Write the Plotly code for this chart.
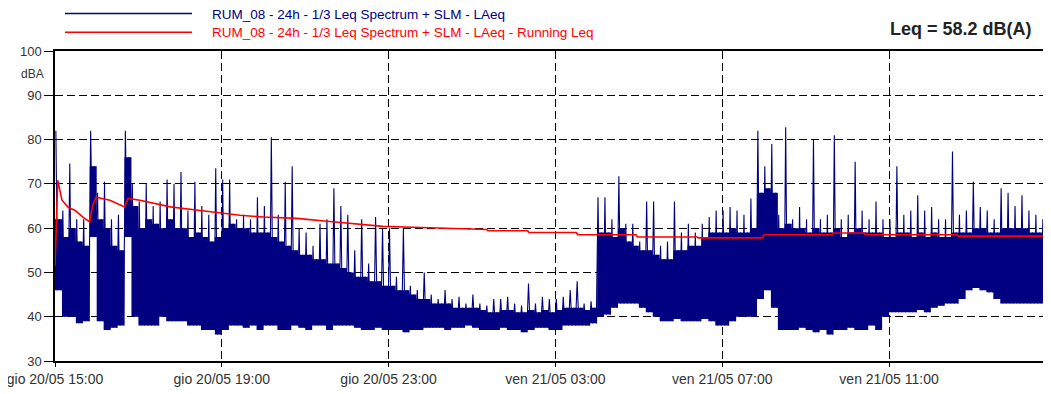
import pandas as pd
import plotly.graph_objects as go

# ---- data (10-minute bins from 20/05 15:00) ----
series_name = "RUM_08 - 24h - 1/3 Leq Spectrum + SLM - LAeq"
running_name = "RUM_08 - 24h - 1/3 Leq Spectrum + SLM - LAeq - Running Leq"
leq_total = 58.2

# peak level per bin (dBA)
laeq_peak = [
    82, 64, 74.6, 62, 62, 82,
    68, 70.5, 62, 63, 82, 70,
    66, 70, 65, 66, 71, 70,
    72.7, 64, 70.5, 65, 63, 73.5,
    71, 71, 62, 63, 62, 67,
    65, 80.5, 63, 70.5, 74, 60,
    59, 56, 61, 62, 69, 65,
    63, 55, 62, 52, 62.5, 60,
    60, 49, 60, 47, 46, 50,
    45, 44, 46, 44, 44.5, 43,
    45, 43, 42.5, 44, 44, 44.5,
    43, 42.5, 47.5, 43, 44.5, 44,
    44, 44.5, 46, 48, 43, 43.5,
    67, 67, 62, 71.7, 61, 61,
    57, 66, 66, 56, 57, 66,
    59, 61, 59, 61, 62.5, 64,
    64, 64.8, 64, 63, 66.7, 82,
    74, 79, 63, 82.8, 62, 64.8,
    62, 80, 62, 63, 81, 62,
    63, 75, 64, 62, 66, 62,
    62, 74, 63, 64, 67.4, 64,
    64.8, 62, 62, 77.3, 63, 64,
    70.5, 64.8, 64, 62, 69, 68,
    65, 67.4, 64, 63, 62, 62,
]
# upper edge of the dense band per bin (dBA)
laeq_top = [
    62, 58, 60, 57, 56, 74,
    62, 60, 56, 55, 76, 65,
    60, 62, 61, 60, 62, 60,
    60, 58, 59, 58, 57, 58,
    60, 61, 60, 60, 59, 59,
    59, 58, 57, 56, 55, 54,
    54, 53, 53, 52, 52, 51,
    50, 49, 49, 48, 48, 47,
    47, 46, 46, 45, 44, 44,
    43, 43, 43, 42, 42, 42,
    42, 41.5, 41, 41, 41.5, 41.5,
    41, 41, 41.5, 41, 41.5, 41,
    41.5, 42, 42, 42, 41.5, 42,
    59, 59, 58, 60, 57, 56,
    55, 55, 54, 53, 53, 55,
    55, 56, 56, 58, 59, 59,
    59, 60, 59, 59, 60, 68,
    69, 68, 60, 61, 60, 60,
    59, 60, 59, 59, 60, 58,
    59, 60, 59, 59, 59, 58,
    58, 59, 59, 58, 59, 58,
    59, 58, 58, 59, 59, 59,
    60, 60, 59, 59, 60, 60,
    60, 60, 59, 59, 59, 59,
]
# lowest level per bin (dBA)
laeq_low = [
    46, 40, 40, 38.5, 39, 58,
    39, 37, 37.5, 38, 58, 40,
    38, 38, 38, 40, 39, 39,
    39, 38, 38, 37, 37, 36,
    37, 38, 38, 37.5, 38, 37,
    38, 38, 37, 37, 38, 37.5,
    37, 38, 38, 37, 38, 38,
    38, 37.5, 37, 37, 37.5, 37,
    37, 37, 36.5, 37, 37, 37.5,
    37.5, 37.5, 37, 37.5, 37.5, 38,
    37.5, 37, 37, 37, 37.5, 37,
    37, 36.5, 37, 37.5, 37.5, 37,
    37, 38, 38, 38, 38, 38.5,
    40, 40.5, 42, 43, 43, 43,
    42, 41, 40, 39, 39, 39.5,
    39, 39, 39, 39.5, 39, 38,
    38, 39, 40, 40, 40, 44,
    46, 42, 37, 37, 37, 37.5,
    37, 36.5, 37, 36, 37, 37,
    37.5, 37, 37, 38, 37, 40,
    41, 41, 41, 41, 41.5, 41,
    42, 42.5, 43, 43, 44, 46,
    46.5, 46, 45.5, 44, 43, 43,
    43, 43, 43, 43, 43, 44,
]

# running Leq: minutes after 15:00 and value
running_min = [0, 1.5, 4, 10, 19, 29, 40, 50, 54, 59, 79, 100, 105, 122, 166, 209,
               266, 300, 348, 395, 434, 472, 515, 568, 583, 621, 623, 680, 682,
               750, 752, 836, 838, 924, 926, 1018, 1020, 1118, 1120, 1164, 1166,
               1298, 1300, 1433]
running_db = [51.5, 60, 70.8, 66.3, 64.7, 64.0, 62.5, 61.4, 65, 67.0, 66.3, 64.8, 66.7, 66.3, 64.8, 64.0,
              62.9, 62.5, 62.2, 61.5, 60.9, 60.4, 60.2, 60.0, 59.8, 59.7, 59.4, 59.4, 59.0,
              59.0, 58.5, 58.5, 58.0, 58.0, 57.8, 57.8, 58.5, 58.5, 58.9, 58.9, 58.5,
              58.5, 58.2, 58.2]

tick_times = ["2021-05-20 15:00", "2021-05-20 19:00", "2021-05-20 23:00",
              "2021-05-21 03:00", "2021-05-21 07:00", "2021-05-21 11:00"]
tick_text = ["gio 20/05 15:00", "gio 20/05 19:00", "gio 20/05 23:00",
             "ven 21/05 03:00", "ven 21/05 07:00", "ven 21/05 11:00"]

# ---- build ----
start = pd.Timestamp("2021-05-20 15:00")
bin_len = 10
n = len(laeq_low)
bin_x = [start + pd.Timedelta(minutes=bin_len * i) for i in range(n)]

# trace through each bin: peak -> low -> band top -> low
zz_x, zz_y = [], []
for i in range(n):
    for frac, val in ((0.125, laeq_peak[i]), (0.375, laeq_low[i]),
                      (0.625, laeq_top[i]), (0.875, laeq_low[i])):
        zz_x.append(start + pd.Timedelta(minutes=bin_len * (i + frac)))
        zz_y.append(val)

run_x = [start + pd.Timedelta(minutes=m) for m in running_min]

NAVY = "#000080"
RED = "#ff0000"
FONT = "Liberation Sans, Arial, sans-serif"

fig = go.Figure()
fig.add_trace(go.Scatter(x=bin_x, y=laeq_low, mode="lines", line=dict(width=0, color=NAVY, shape="hv"),
                         showlegend=False, hoverinfo="skip"))
fig.add_trace(go.Scatter(x=bin_x, y=laeq_top, mode="lines", line=dict(width=0, color=NAVY, shape="hv"),
                         fill="tonexty", fillcolor=NAVY, showlegend=False, hoverinfo="skip"))
fig.add_trace(go.Scatter(x=zz_x, y=zz_y, mode="lines", line=dict(width=1.1, color=NAVY),
                         name=series_name, showlegend=False))
fig.add_trace(go.Scatter(x=run_x, y=running_db, mode="lines", line=dict(width=1.6, color=RED),
                         name=running_name, showlegend=False))

# page has an 8px body margin: figure starts at page (8, 8)
OFF = 8
PAGE_W, PAGE_H = 1051, 394
PL, PR, PT, PB = 55, 1051, 51, 361   # plot area in page pixels
W, H = PAGE_W - OFF, PAGE_H - OFF
L, T = PL - OFF, PT - OFF
R, B = PAGE_W - PR, PAGE_H - PB
pw, ph = PR - PL, PB - PT

def px(X):
    return (X - PL) / pw

def py(Y):
    return (PB - Y) / ph

shapes = [
    dict(type="line", xref="paper", yref="paper", x0=px(65), x1=px(192), y0=py(13.5), y1=py(13.5),
         line=dict(color=NAVY, width=1.5)),
    dict(type="line", xref="paper", yref="paper", x0=px(65), x1=px(192), y0=py(32.3), y1=py(32.3),
         line=dict(color=RED, width=1.5)),
]
annotations = [
    dict(xref="paper", yref="paper", x=px(210), y=py(14.5), text=series_name, showarrow=False,
         xanchor="left", yanchor="middle", font=dict(family=FONT, size=13.5, color=NAVY)),
    dict(xref="paper", yref="paper", x=px(210), y=py(32), text=running_name, showarrow=False,
         xanchor="left", yanchor="middle", font=dict(family=FONT, size=13.5, color=RED)),
    dict(xref="paper", yref="paper", x=px(1034), y=py(29), text=f"<b>Leq = {leq_total} dB(A)</b>",
         showarrow=False, xanchor="right", yanchor="middle",
         font=dict(family=FONT, size=18, color="#222222")),
    dict(xref="paper", yref="paper", x=px(46), y=py(74), text="dBA", showarrow=False,
         xanchor="right", yanchor="middle", font=dict(family=FONT, size=12, color="#333333")),
]

fig.update_layout(
    width=W, height=H,
    margin=dict(l=L, r=R, t=T, b=B, pad=0, autoexpand=False),
    paper_bgcolor="white", plot_bgcolor="white",
    shapes=shapes, annotations=annotations,
    showlegend=False,
    font=dict(family=FONT, color="#333333"),
)
fig.update_xaxes(
    type="date",
    range=[start, start + pd.Timedelta(minutes=1433)],
    tickvals=tick_times, ticktext=tick_text,
    tickfont=dict(size=14, color="#333333"),
    ticklabeloverflow="allow",
    showgrid=True, gridcolor="black", gridwidth=1, griddash="8px,4px",
    showline=True, linecolor="black", linewidth=1.5, mirror=True,
    ticks="outside", ticklen=4, tickcolor="black",
    zeroline=False,
)
fig.update_yaxes(
    range=[30, 100], dtick=10, tick0=30,
    tickfont=dict(size=13, color="#333333"),
    showgrid=True, gridcolor="black", gridwidth=1, griddash="8px,4px",
    showline=True, linecolor="black", linewidth=1.5, mirror=False,
    ticks="outside", ticklen=9, tickcolor="black",
    zeroline=False,
)

fig.write_html("out.html")
